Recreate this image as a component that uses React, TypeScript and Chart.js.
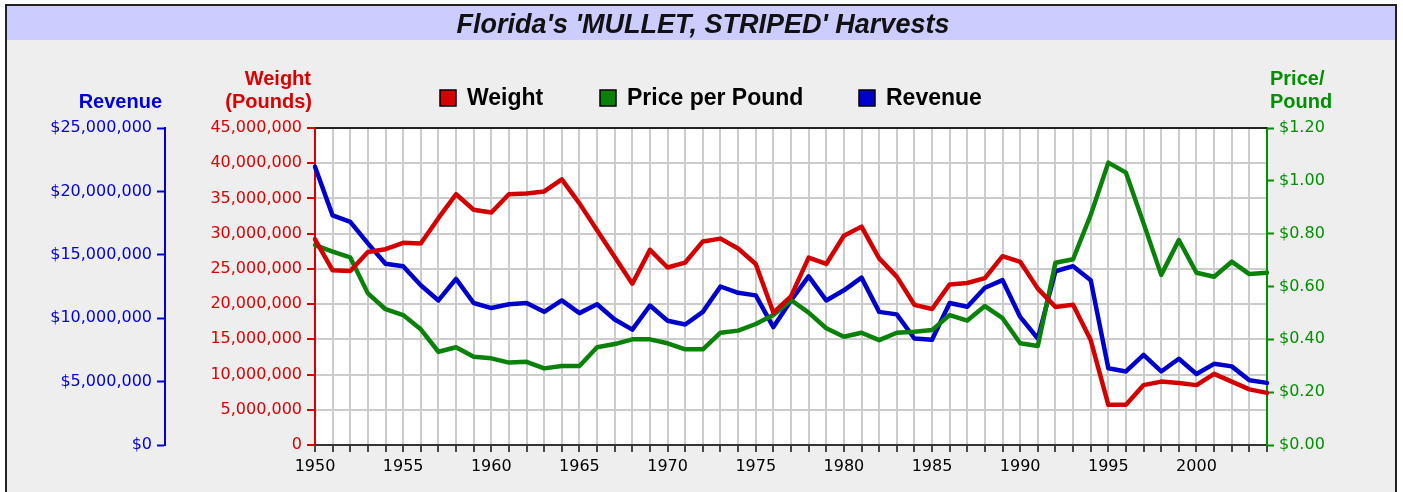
import React, { useEffect, useRef } from 'react';
import { Chart, registerables } from 'chart.js';

Chart.register(...registerables);

const W = 1403;
const H = 492;

const years = [
  1950, 1951, 1952, 1953, 1954, 1955, 1956, 1957, 1958, 1959,
  1960, 1961, 1962, 1963, 1964, 1965, 1966, 1967, 1968, 1969,
  1970, 1971, 1972, 1973, 1974, 1975, 1976, 1977, 1978, 1979,
  1980, 1981, 1982, 1983, 1984, 1985, 1986, 1987, 1988, 1989,
  1990, 1991, 1992, 1993, 1994, 1995, 1996, 1997, 1998, 1999,
  2000, 2001, 2002, 2003, 2004,
];

const weightPounds = [
  29200000, 24800000, 24700000, 27400000, 27800000, 28700000, 28600000, 32200000, 35600000, 33400000,
  33000000, 35600000, 35700000, 36000000, 37700000, 34300000, 30500000, 26700000, 22900000, 27700000,
  25200000, 25900000, 28900000, 29300000, 27900000, 25700000, 18800000, 21100000, 26600000, 25700000,
  29700000, 31000000, 26500000, 23900000, 19900000, 19300000, 22800000, 23000000, 23700000, 26800000,
  26000000, 22200000, 19600000, 19900000, 14900000, 5700000, 5700000, 8500000, 9000000, 8800000,
  8500000, 10100000, 9000000, 7900000, 7400000,
];

const pricePerPound = [
  0.757, 0.732, 0.71, 0.574, 0.514, 0.492, 0.438, 0.353, 0.37, 0.334,
  0.328, 0.312, 0.315, 0.29, 0.299, 0.299, 0.37, 0.382, 0.4, 0.4,
  0.385, 0.362, 0.362, 0.425, 0.433, 0.458, 0.492, 0.549, 0.501, 0.442,
  0.41, 0.425, 0.397, 0.425, 0.429, 0.435, 0.492, 0.471, 0.526, 0.48,
  0.385, 0.375, 0.69, 0.703, 0.871, 1.069, 1.031, 0.839, 0.644, 0.776,
  0.652, 0.637, 0.694, 0.647, 0.652,
];

const revenueDollars = [
  21950000, 18100000, 17600000, 15900000, 14300000, 14100000, 12600000, 11400000, 13100000, 11200000,
  10800000, 11100000, 11200000, 10500000, 11400000, 10400000, 11100000, 9900000, 9100000, 11000000,
  9800000, 9500000, 10500000, 12500000, 12000000, 11800000, 9300000, 11400000, 13300000, 11400000,
  12200000, 13200000, 10500000, 10300000, 8400000, 8300000, 11200000, 10900000, 12400000, 13000000,
  10100000, 8400000, 13700000, 14100000, 13000000, 6050000, 5800000, 7100000, 5800000, 6800000,
  5600000, 6400000, 6200000, 5100000, 4900000,
];

const seriesNames = ['Weight', 'Price per Pound', 'Revenue'];
const titleText = "Florida's 'MULLET, STRIPED' Harvests";

const RED_LINE = '#d40000';
const GREEN_LINE = '#0a820a';
const BLUE_LINE = '#0000cc';
const RED_TEXT = '#dd0000';
const GREEN_TEXT = '#009000';
const BLUE_TEXT = '#0000dd';
const GRID = '#cccccc';

const TICK_FONT = { family: "'DejaVu Sans', sans-serif", size: 16 };

const decorPlugin = {
  id: 'decor',
  beforeDraw(chart: any) {
    const { ctx, chartArea: a } = chart;
    ctx.save();
    ctx.fillStyle = '#ffffff';
    ctx.fillRect(0, 0, W, H);
    ctx.fillStyle = '#eeeeee';
    ctx.fillRect(6, 5, 1390, H);
    ctx.fillStyle = '#ccccff';
    ctx.fillRect(7, 6, 1388, 34);
    ctx.fillStyle = '#ffffff';
    ctx.fillRect(a.left, a.top, a.right - a.left, a.bottom - a.top);
    ctx.strokeStyle = '#222222';
    ctx.lineWidth = 2;
    ctx.strokeRect(6, 5, 1390, H + 20);
    ctx.restore();
  },
  afterDraw(chart: any) {
    const { ctx, chartArea: a } = chart;
    ctx.save();
    ctx.strokeStyle = '#222222';
    ctx.lineWidth = 2;
    ctx.beginPath();
    ctx.moveTo(a.left, a.top);
    ctx.lineTo(a.right, a.top);
    ctx.stroke();

    ctx.fillStyle = '#111111';
    ctx.textAlign = 'center';
    ctx.textBaseline = 'alphabetic';
    ctx.font = "italic bold 27px 'Liberation Sans', Arial, sans-serif";
    ctx.fillText(titleText, 703, 33);

    const legendColors = [RED_LINE, GREEN_LINE, BLUE_LINE];
    const legendX = [440, 600, 859];
    ctx.font = "bold 23px 'Liberation Sans', Arial, sans-serif";
    ctx.textAlign = 'left';
    for (let i = 0; i < seriesNames.length; i++) {
      ctx.fillStyle = legendColors[i];
      ctx.fillRect(legendX[i], 90, 16, 16);
      ctx.strokeStyle = '#000000';
      ctx.lineWidth = 1.5;
      ctx.strokeRect(legendX[i], 90, 16, 16);
      ctx.fillStyle = '#000000';
      ctx.fillText(seriesNames[i], legendX[i] + 27, 105);
    }

    ctx.font = "bold 20px 'Liberation Sans', Arial, sans-serif";
    ctx.textAlign = 'right';
    ctx.fillStyle = BLUE_TEXT;
    ctx.fillText('Revenue', 162, 108);
    ctx.fillStyle = RED_TEXT;
    ctx.fillText('Weight', 311, 85);
    ctx.fillText('(Pounds)', 312, 108);
    ctx.textAlign = 'left';
    ctx.fillStyle = GREEN_TEXT;
    ctx.fillText('Price/', 1270, 85);
    ctx.fillText('Pound', 1270, 108);
    ctx.restore();
  },
};

export default function App() {
  const canvasRef = useRef<HTMLCanvasElement | null>(null);

  useEffect(() => {
    const canvas = canvasRef.current;
    if (!canvas) return;
    const lineStyle = {
      borderWidth: 4.5,
      pointRadius: 0,
      tension: 0,
      borderJoinStyle: 'round' as const,
      borderCapStyle: 'round' as const,
    };
    const chart = new Chart(canvas, {
      type: 'line',
      data: {
        labels: years.map(String),
        datasets: [
          {
            label: seriesNames[0],
            data: weightPounds,
            yAxisID: 'yW',
            borderColor: RED_LINE,
            backgroundColor: RED_LINE,
            ...lineStyle,
          },
          {
            label: seriesNames[1],
            data: pricePerPound,
            yAxisID: 'yP',
            borderColor: GREEN_LINE,
            backgroundColor: GREEN_LINE,
            ...lineStyle,
          },
          {
            label: seriesNames[2],
            data: revenueDollars,
            yAxisID: 'yR',
            borderColor: BLUE_LINE,
            backgroundColor: BLUE_LINE,
            ...lineStyle,
          },
        ],
      },
      options: {
        responsive: false,
        animation: false,
        events: [],
        layout: { padding: { left: 15, right: 6, top: 128, bottom: 7 } },
        plugins: {
          legend: { display: false },
          title: { display: false },
          tooltip: { enabled: false },
        },
        scales: {
          x: {
            type: 'category',
            offset: false,
            grid: {
              color: GRID,
              lineWidth: 2,
              tickColor: '#111111',
              tickWidth: 1.5,
              tickLength: 7,
              drawOnChartArea: true,
            },
            border: { color: '#333333', width: 2 },
            ticks: {
              autoSkip: false,
              maxRotation: 0,
              minRotation: 0,
              padding: 5,
              color: '#000000',
              font: TICK_FONT,
              callback: (_v: any, i: number) => (years[i] % 5 === 0 ? String(years[i]) : ''),
            },
            afterFit: (s: any) => {
              s.height = 40;
            },
          },
          yW: {
            type: 'linear',
            position: 'left',
            weight: 0,
            min: 0,
            max: 45000000,
            grid: {
              color: GRID,
              lineWidth: 2,
              tickColor: RED_TEXT,
              tickWidth: 2,
              tickLength: 8,
            },
            border: { color: RED_TEXT, width: 2 },
            ticks: {
              stepSize: 5000000,
              color: RED_TEXT,
              font: TICK_FONT,
              padding: 5,
              callback: (v: any) => Number(v).toLocaleString('en-US'),
            },
            afterFit: (s: any) => {
              s.width = 150;
            },
          },
          yR: {
            type: 'linear',
            position: 'left',
            weight: 1,
            min: 0,
            max: 25000000,
            grid: {
              drawOnChartArea: false,
              color: BLUE_TEXT,
              tickColor: BLUE_TEXT,
              tickWidth: 2,
              tickLength: 8,
            },
            border: { color: BLUE_TEXT, width: 2 },
            ticks: {
              stepSize: 5000000,
              color: BLUE_TEXT,
              font: TICK_FONT,
              padding: 5,
              callback: (v: any) => '$' + Number(v).toLocaleString('en-US'),
            },
            afterFit: (s: any) => {
              s.width = 150;
            },
          },
          yP: {
            type: 'linear',
            position: 'right',
            min: 0,
            max: 1.2,
            grid: {
              drawOnChartArea: false,
              color: GREEN_TEXT,
              tickColor: GREEN_TEXT,
              tickWidth: 2,
              tickLength: 7,
            },
            border: { color: GREEN_TEXT, width: 2 },
            ticks: {
              stepSize: 0.2,
              color: GREEN_TEXT,
              font: TICK_FONT,
              padding: 5,
              callback: (v: any) => '$' + Number(v).toFixed(2),
            },
            afterFit: (s: any) => {
              s.width = 130;
            },
          },
        },
      },
      plugins: [decorPlugin],
    });
    return () => chart.destroy();
  }, []);

  return (
    <div style={{ position: 'absolute', left: 0, top: 0, width: W, height: H }}>
      <canvas ref={canvasRef} width={W} height={H} style={{ display: 'block' }} />
    </div>
  );
}
